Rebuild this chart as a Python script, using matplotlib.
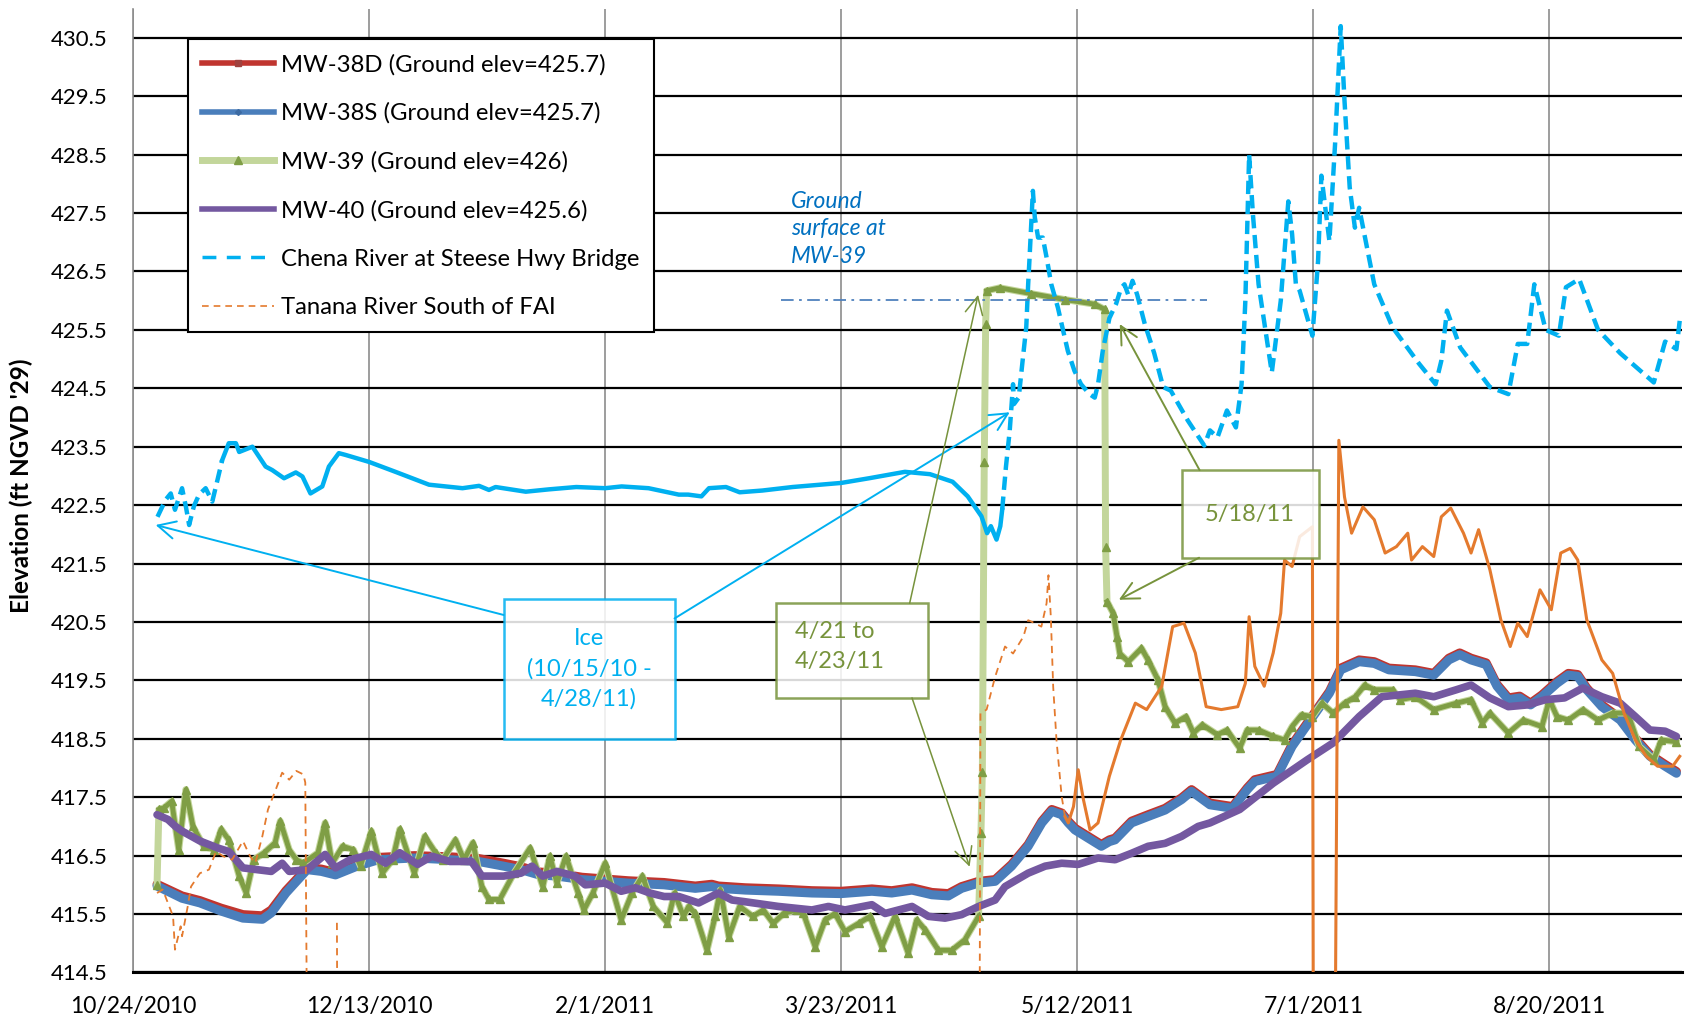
import numpy as np
import pandas as pd
import matplotlib
matplotlib.use('Agg')
import matplotlib.pyplot as plt
import matplotlib.dates as mdates
from matplotlib.lines import Line2D
from matplotlib.patches import Rectangle

plt.rcParams['font.family'] = ['Lato', 'DejaVu Sans']

start = np.datetime64('2010-10-24')
tick_labels = ['10/24/2010', '12/13/2010', '2/1/2011', '3/23/2011',
               '5/12/2011', '7/1/2011', '8/20/2011']
series_names = ['MW-38D (Ground elev=425.7)', 'MW-38S (Ground elev=425.7)',
                'MW-39 (Ground elev=426)', 'MW-40 (Ground elev=425.6)',
                'Chena River at Steese Hwy Bridge', 'Tanana River South of FAI']

# days after 10/24/2010, elevation in ft
mw38s_day = [5.1, 10.4, 14.2, 18.7, 23.3, 27.4, 29.3, 32.4, 36.9, 39.9, 42.9, 47.5, 52.0, 59.6,
             67.1, 73.2, 78.5, 82.2, 86.0, 89.8, 95.1, 100, 104.9, 112.5, 119.1, 122.6, 124.0,
             129.7, 136.7, 143.8, 150.0, 156.5, 160.7, 165.0, 169.2, 172.7, 175.5, 179.1, 182.6,
             186.1, 189.6, 192.5, 194.6, 196.7, 198.1, 199.5, 202.3, 205.1, 206.8, 208.0, 211.5,
             215.0, 218.6, 222.1, 224.2, 228.1, 232.9, 236.0, 237.6, 242.3, 245.5, 249.4, 253.4,
             255.8, 259.7, 262.9, 266.0, 271.6, 275.5, 278.7, 281.0, 283.4, 286.6, 288.9, 291.3,
             293.7, 296.0, 298.4, 301.6, 304.0, 306.0, 307.9, 311.1, 315.0, 318.2, 321.3, 324.5,
             326.9]
mw38s_elev = [415.98, 415.77, 415.69, 415.55, 415.43, 415.41, 415.52, 415.86, 416.26, 416.23,
              416.17, 416.32, 416.43, 416.46, 416.43, 416.40, 416.32, 416.26, 416.17, 416.15,
              416.09, 416.06, 416.03, 416.00, 415.94, 415.97, 415.94, 415.91, 415.89, 415.86,
              415.85, 415.89, 415.86, 415.91, 415.83, 415.81, 415.94, 416.03, 416.06, 416.32,
              416.66, 417.06, 417.26, 417.20, 417.06, 416.94, 416.80, 416.66, 416.74, 416.77,
              417.06, 417.17, 417.28, 417.46, 417.60, 417.37, 417.31, 417.63, 417.77, 417.86,
              418.37, 418.82, 419.28, 419.68, 419.82, 419.79, 419.68, 419.65, 419.59, 419.85,
              419.94, 419.85, 419.77, 419.40, 419.17, 419.20, 419.08, 419.22, 419.45, 419.59,
              419.57, 419.34, 419.05, 418.82, 418.48, 418.20, 418.03, 417.91]
mw38d_day = mw38s_day
mw38d_elev = [416.01, 415.81, 415.73, 415.60, 415.49, 415.47, 415.57, 415.90, 416.29, 416.27,
              416.21, 416.36, 416.47, 416.50, 416.48, 416.45, 416.37, 416.31, 416.22, 416.20,
              416.13, 416.10, 416.07, 416.04, 415.98, 416.01, 415.98, 415.95, 415.93, 415.90,
              415.89, 415.93, 415.90, 415.95, 415.87, 415.85, 415.97, 416.06, 416.09, 416.35,
              416.69, 417.09, 417.29, 417.23, 417.09, 416.97, 416.83, 416.69, 416.77, 416.80,
              417.09, 417.20, 417.31, 417.49, 417.63, 417.40, 417.34, 417.66, 417.80, 417.89,
              418.40, 418.85, 419.31, 419.71, 419.85, 419.82, 419.71, 419.68, 419.62, 419.88,
              419.97, 419.88, 419.80, 419.43, 419.20, 419.23, 419.11, 419.25, 419.48, 419.62,
              419.60, 419.37, 419.08, 418.85, 418.51, 418.23, 418.06, 417.94]

mw39_day = [5.1, 5.5, 6.6, 8.2, 9.7, 11.2, 12.7, 15.0, 17.2, 18.7, 20.3, 22.5, 24.0, 25.6, 27.8,
            30.1, 31.2, 33.1, 34.6, 36.1, 39.2, 40.7, 42.2, 44.4, 46.7, 48.2, 50.5, 52.8, 55.0,
            56.5, 59.6, 61.8, 64.1, 65.6, 68.3, 70.1, 72.0, 73.9, 75.4, 77.7, 80.7, 84.1, 86.8,
            88.3, 89.8, 91.7, 94.3, 95.5, 97.4, 100.0, 103.4, 105.7, 107.9, 110.2, 113.2, 114.7,
            116.6, 117.7, 119.1, 121.6, 123.3, 124.4, 126.2, 128.5, 131.3, 133.5, 135.6, 137.8,
            140.6, 142.0, 144.5, 146.6, 148.7, 150.8, 153.7, 156.1, 158.6, 161.4, 164.2, 166.0,
            167.8, 170.6, 173.4, 176.2, 179.1, 179.6, 179.9, 180.3, 180.6, 180.8, 183.6, 190.3,
            197.3, 203.7, 205.8, 206.0, 206.3, 207.6, 208.4, 209.0, 210.8, 213.6, 215.0, 217.1,
            218.6, 220.7, 223.0, 224.6, 226.5, 229.7, 231.7, 234.4, 236.0, 238.4, 241.5, 243.9,
            245.5, 247.5, 249.8, 251.8, 254.2, 256.6, 258.9, 260.9, 262.9, 266.8, 268.4, 271.6,
            275.5, 280.3, 283.4, 285.8, 287.4, 291.3, 294.5, 298.4, 300.0, 301.6, 304.0, 307.1,
            310.3, 313.4, 316.6, 319.0, 322.1, 323.7, 326.9]
mw39_elev = [416.00, 417.29, 417.32, 417.43, 416.60, 417.63, 417.00, 416.66, 416.60, 416.95,
             416.77, 416.15, 415.86, 416.43, 416.55, 416.72, 417.09, 416.60, 416.43, 416.37,
             416.55, 417.06, 416.37, 416.66, 416.60, 416.32, 416.92, 416.20, 416.43, 416.95,
             416.20, 416.83, 416.55, 416.43, 416.77, 416.43, 416.72, 415.97, 415.75, 415.75,
             416.20, 416.63, 415.97, 416.49, 416.03, 416.49, 415.86, 415.57, 415.86, 416.37,
             415.40, 415.86, 416.15, 415.63, 415.35, 415.86, 415.46, 415.63, 415.51, 414.88,
             415.46, 415.91, 415.11, 415.63, 415.46, 415.57, 415.34, 415.51, 415.57, 415.51,
             414.94, 415.40, 415.51, 415.20, 415.34, 415.46, 414.94, 415.46, 414.83, 415.40,
             415.23, 414.88, 414.88, 415.06, 415.46, 416.88, 417.94, 423.23, 425.60, 426.17,
             426.22, 426.12, 426.02, 425.94, 425.85, 421.79, 420.85, 420.65, 420.25, 419.96,
             419.82, 420.05, 419.85, 419.51, 419.05, 418.77, 418.88, 418.60, 418.74, 418.57,
             418.65, 418.34, 418.65, 418.65, 418.54, 418.48, 418.71, 418.91, 418.88, 419.11,
             418.94, 419.11, 419.22, 419.42, 419.34, 419.34, 419.17, 419.22, 419.00, 419.11,
             419.17, 418.77, 418.94, 418.60, 418.82, 418.71, 419.17, 418.88, 418.82, 419.00,
             418.82, 418.94, 418.94, 418.37, 418.14, 418.48, 418.45]

mw40_day = [5.1, 7.4, 9.0, 10.4, 14.2, 18.0, 20.3, 23.3, 26.3, 29.3, 31.6, 33.1, 36.9, 40.7,
            42.9, 46.0, 50.5, 53.5, 56.5, 60.3, 63.3, 67.1, 71.7, 73.9, 78.5, 82.2, 84.5, 86.8,
            89.8, 93.6, 95.8, 100, 103.4, 106.4, 109.5, 112.5, 115.6, 119.8, 124.0, 126.9, 129.7,
            136.7, 143.8, 147.3, 150.8, 156.5, 159.3, 165.0, 168.5, 172.0, 175.5, 179.1, 182.6,
            184.7, 189.6, 193.2, 196.7, 200.2, 204.4, 208.0, 211.5, 215.0, 218.6, 222.1, 225.6,
            228.1, 234.4, 241.5, 248.7, 254.2, 259.7, 264.5, 271.6, 275.5, 280.3, 283.4, 287.4,
            291.3, 295.3, 299.2, 303.2, 307.1, 311.1, 315.0, 318.2, 321.3, 324.5, 326.9]
mw40_elev = [417.20, 417.12, 417.00, 416.92, 416.75, 416.63, 416.57, 416.29, 416.26, 416.23,
             416.37, 416.23, 416.26, 416.52, 416.29, 416.43, 416.52, 416.37, 416.55, 416.35,
             416.49, 416.40, 416.40, 416.15, 416.15, 416.20, 416.32, 416.15, 416.23, 416.15,
             416.00, 416.03, 415.89, 415.95, 415.86, 415.80, 415.80, 415.69, 415.86, 415.74,
             415.71, 415.63, 415.57, 415.63, 415.57, 415.66, 415.51, 415.63, 415.46, 415.43,
             415.49, 415.63, 415.74, 415.97, 416.20, 416.32, 416.37, 416.35, 416.46, 416.43,
             416.54, 416.66, 416.71, 416.83, 417.00, 417.06, 417.29, 417.74, 418.14, 418.43,
             418.88, 419.22, 419.28, 419.22, 419.34, 419.42, 419.20, 419.05, 419.08, 419.17,
             419.20, 419.37, 419.22, 419.11, 418.88, 418.65, 418.63, 418.54]

chena_day = [5.2, 6.9, 8.0, 8.9, 10.4, 11.2, 11.9, 12.9, 14.0, 15.4, 16.8, 17.9, 18.9, 20.3,
             21.8, 22.5, 25.3, 28.1, 29.5, 32.0, 34.5, 35.9, 37.6, 40.1, 41.5, 43.6, 45.0, 50.0,
             55.6, 62.7, 69.8, 73.3, 75.4, 76.8, 83.2, 88.1, 93.9, 100, 103.5, 109.2, 115.6,
             117.6, 120.4, 122.0, 125.6, 128.5, 133.3, 139.7, 150, 155.9, 163.5, 168.8, 173.6,
             176.8, 179.7, 180.9, 181.7, 182.9, 183.7, 184.1, 184.9, 185.7, 186.4, 186.6, 187.6,
             188.5, 189.2, 189.6, 189.9, 190.6, 191.0, 191.7, 192.7, 193.5, 194.5, 195.9, 197.0,
             198.0, 199.4, 200.8, 202.6, 203.7, 204.4, 205.4, 206.8, 208.2, 209.3, 210.0, 210.8,
             211.7, 212.7, 214.3, 216.3, 218.2, 219.8, 223.4, 226.9, 228.1, 229.7, 231.7, 233.6,
             234.8, 235.6, 236.4, 237.2, 238.4, 241.2, 243.1, 244.7, 245.5, 246.3, 247.1, 249.8,
             251.0, 251.7, 253.4, 254.6, 255.8, 256.6, 257.7, 258.8, 259.7, 262.9, 266.8, 272.4,
             275.9, 277.1, 278.3, 281.1, 287.4, 291.3, 293.3, 295.3, 296.8, 299.2, 302.0, 303.5,
             306.3, 310.3, 315.0, 322.1, 324.5, 326.9, 327.6]
chena_elev = [422.30, 422.59, 422.70, 422.42, 422.79, 422.48, 422.16, 422.48, 422.68, 422.79,
              422.56, 422.93, 423.27, 423.56, 423.56, 423.41, 423.50, 423.16, 423.10, 422.96,
              423.06, 422.99, 422.70, 422.82, 423.16, 423.39, 423.36, 423.24, 423.07, 422.85,
              422.79, 422.83, 422.76, 422.81, 422.73, 422.77, 422.81, 422.79, 422.82, 422.79,
              422.68, 422.68, 422.65, 422.79, 422.81, 422.72, 422.75, 422.81, 422.88, 422.96,
              423.07, 423.03, 422.90, 422.65, 422.31, 422.02, 422.14, 421.91, 422.14, 422.42,
              423.16, 423.78, 424.57, 424.23, 424.34, 425.03, 425.55, 426.28, 426.74, 427.88,
              427.43, 427.08, 427.08, 426.74, 426.28, 425.88, 425.49, 425.14, 424.80, 424.57,
              424.40, 424.34, 424.57, 425.14, 425.70, 425.94, 426.22, 426.28, 426.10, 426.34,
              426.10, 425.60, 425.10, 424.52, 424.46, 423.95, 423.52, 423.78, 423.66, 424.12,
              423.83, 424.57, 426.00, 428.50, 427.48, 426.28, 424.77, 426.00, 427.70, 427.14,
              426.28, 426.17, 425.40, 426.68, 428.14, 427.02, 428.68, 430.70, 429.42, 427.94,
              427.25, 427.59, 426.28, 425.54, 424.92, 424.57, 424.97, 425.83, 425.20, 424.52,
              424.40, 425.26, 425.26, 426.28, 425.50, 425.40, 426.23, 426.37, 425.50, 425.10,
              424.60, 425.30, 425.17, 425.66]

# gaps (nan) and readings far below the axis where the logger dropped out
tanana_day = [5.1, 6.3, 7.4, 8.5, 8.9, 10.1, 10.4, 11.6, 12.3, 14.2, 16.1, 17.6, 19.1, 21.0,
              23.3, 24.8, 25.9, 27.4, 28.6, 30.1, 31.6, 33.1, 34.6, 36.1, 36.5, 36.9, 40.0,
              43.2, 43.3, 100.0, 179.3, 179.5, 180.8, 182.6, 184.7, 186.4, 188.6, 189.6, 191.0,
              192.4, 193.5, 193.9, 194.4, 194.9, 195.6, 196.7, 197.4, 198.1, 199.2, 200.2, 201.3,
              202.7, 204.4, 206.8, 209.2, 212.3, 214.7, 217.9, 220.2, 222.6, 225.0, 227.3, 230.5,
              234.0, 235.6, 236.4, 237.6, 239.6, 241.5, 243.1, 243.9, 245.5, 247.1, 249.8, 250.0,
              252.0, 254.6, 255.4, 256.6, 258.1, 260.5, 262.9, 265.2, 267.6, 270.0, 270.8, 273.1,
              275.5, 277.1, 279.1, 281.8, 283.4, 285.0, 287.4, 289.7, 291.7, 293.3, 295.3, 298.0,
              300.4, 302.4, 304.4, 306.0, 307.9, 311.1, 313.4, 315.8, 318.2, 320.5, 322.9, 326.1,
              327.6]
tanana_elev = [415.86, 415.92, 415.69, 415.46, 414.89, 415.29, 415.12, 415.63, 415.97, 416.20,
               416.26, 416.57, 416.49, 416.43, 416.75, 416.49, 416.37, 416.83, 417.29, 417.60,
               417.92, 417.80, 417.95, 417.89, 417.75, 413.0, np.nan, 415.35, 413.0, np.nan,
               413.0, 418.94, 419.00, 419.56, 420.08, 419.96, 420.25, 420.53, 420.48, 420.42,
               420.82, 421.30, 420.59, 419.39, 418.48, 417.51, 417.17, 417.06, 417.34, 417.97,
               417.46, 416.94, 417.06, 417.86, 418.48, 419.11, 419.00, 419.40, 420.42, 420.48,
               419.97, 419.05, 419.00, 419.05, 419.45, 420.59, 419.74, 419.40, 419.97, 420.65,
               421.56, 421.45, 421.96, 422.13, 413.0, np.nan, 413.0, 423.61, 422.64, 422.02,
               422.47, 422.25, 421.68, 421.79, 422.02, 421.56, 421.79, 421.62, 422.30, 422.45,
               422.02, 421.68, 422.08, 421.39, 420.54, 420.08, 420.48, 420.25, 421.05, 420.71,
               421.68, 421.76, 421.56, 420.54, 419.85, 419.62, 418.94, 418.48, 418.20, 418.03,
               418.03, 418.20]

ground_mw39 = 426.02

c_red = '#C0352F'
c_blue = '#4A7EBB'
c_lgreen = '#C3D69B'
c_olive = '#7F9E45'
c_purple = '#7458A0'
c_chena = '#00B0F0'
c_tanana = '#E47A2E'
c_note_green = '#77933C'


def to_x(days):
    return mdates.date2num(start) + np.asarray(days, dtype=float)


fig = plt.figure(figsize=(16.85, 10.23), dpi=100)
ax = fig.add_axes([0.0789, 0.0494, 0.9191, 0.9422])

# wells
ax.plot(to_x(mw38d_day), mw38d_elev, color=c_red, lw=6.5, solid_capstyle='round', zorder=2)
ax.plot(to_x(mw38s_day), mw38s_elev, color=c_blue, lw=6.5, solid_capstyle='round', zorder=3)

d39 = np.array(mw39_day)
e39 = np.array(mw39_elev)
ax.plot(to_x(d39), e39, color=c_lgreen, lw=5, zorder=4)
# darker trace except across the fast jumps
rate = np.abs(np.diff(e39)) / np.diff(d39)
ov_d, ov_e = [d39[0]], [e39[0]]
for i in range(1, len(d39)):
    if rate[i - 1] > 2.5:
        ov_d.append(np.nan)
        ov_e.append(np.nan)
    ov_d.append(d39[i])
    ov_e.append(e39[i])
ov_d = np.array(ov_d)
ov_e = np.array(ov_e)
ax.plot(to_x(ov_d), ov_e, color=c_olive, lw=3.5, zorder=4.1)
ax.plot(to_x(d39), e39, ls='none', marker='^', ms=6, color=c_olive, zorder=4.2)

ax.plot(to_x(mw40_day), mw40_elev, color=c_purple, lw=5.5, solid_capstyle='round', zorder=5)

# Chena: logger trace looks continuous under the ice, dashed otherwise
cd = np.array(chena_day)
ce = np.array(chena_elev)
early = cd <= 18.9
winter = (cd >= 18.9) & (cd <= 184.1)
late = cd >= 184.1
ax.plot(to_x(cd[early]), ce[early], color=c_chena, lw=3.2, dashes=(3, 1.5), zorder=6)
ax.plot(to_x(cd[winter]), ce[winter], color=c_chena, lw=3.2, zorder=6)
ax.plot(to_x(cd[late]), ce[late], color=c_chena, lw=3.2, dashes=(3, 1.5), zorder=6)

td = np.array(tanana_day)
te = np.array(tanana_elev)
spring = td <= 197.4
summer = td >= 197.4
ax.plot(to_x(td[spring]), te[spring], color=c_tanana, lw=1.3, dashes=(4, 3), zorder=7)
ax.plot(to_x(td[summer]), te[summer], color=c_tanana, lw=2.2, zorder=7)

# ground surface at MW-39
ax.plot(to_x([137.3, 227.4]), [ground_mw39, ground_mw39], color='#4F81BD', lw=1.3,
        dashes=(7, 3, 1.5, 3), zorder=8)
ax.text(to_x(139.3)[()], 427.23, 'Ground\nsurface at\nMW-39', color='#0070C0', style='italic',
        fontsize=16.5, ha='left', va='center', linespacing=1.38, zorder=9)

arrow_kw = dict(arrowstyle='->,head_length=0.7,head_width=0.35', shrinkA=0, shrinkB=0,
                mutation_scale=18)

# ice note
ax.add_patch(Rectangle((to_x(78.5)[()], 418.49), 36.2, 2.40, facecolor='white', alpha=0.85,
                       edgecolor=c_chena, lw=1.8, zorder=10))
ax.text(to_x(96.6)[()], 419.70, 'Ice\n(10/15/10 -\n4/28/11)', color=c_chena, fontsize=17,
        ha='center', va='center', linespacing=1.5, zorder=11)
ax.annotate('', xy=(to_x(4.8)[()], 422.16), xytext=(to_x(78.5)[()], 420.62),
            arrowprops=dict(color=c_chena, lw=1.4, **arrow_kw), zorder=11)
ax.annotate('', xy=(to_x(185.7)[()], 424.09), xytext=(to_x(114.7)[()], 420.56),
            arrowprops=dict(color=c_chena, lw=1.4, **arrow_kw), zorder=11)

# 4/21 - 4/23 note
ax.add_patch(Rectangle((to_x(136.1)[()], 419.20), 32.3, 1.62, facecolor='white', alpha=0.85,
                       edgecolor=c_note_green, lw=1.8, zorder=10))
ax.text(to_x(140.2)[()], 420.08, '4/21 to\n4/23/11', color=c_note_green, fontsize=17,
        ha='left', va='center', linespacing=1.5, zorder=11)
ax.annotate('', xy=(to_x(179.0)[()], 426.10), xytext=(to_x(164.5)[()], 420.82),
            arrowprops=dict(color=c_note_green, lw=1.1, **arrow_kw), zorder=11)
ax.annotate('', xy=(to_x(177.2)[()], 416.31), xytext=(to_x(165.0)[()], 419.20),
            arrowprops=dict(color=c_note_green, lw=1.1, **arrow_kw), zorder=11)

# 5/18 note
ax.add_patch(Rectangle((to_x(222.1)[()], 421.60), 29.2, 1.50, facecolor='white', alpha=0.85,
                       edgecolor=c_note_green, lw=1.8, zorder=10))
ax.text(to_x(236.6)[()], 422.34, '5/18/11', color=c_note_green, fontsize=17,
        ha='center', va='center', zorder=11)
ax.annotate('', xy=(to_x(209.0)[()], 425.60), xytext=(to_x(225.9)[()], 423.10),
            arrowprops=dict(color=c_note_green, lw=1.4, **arrow_kw), zorder=11)
ax.annotate('', xy=(to_x(208.8)[()], 420.88), xytext=(to_x(225.8)[()], 421.60),
            arrowprops=dict(color=c_note_green, lw=1.4, **arrow_kw), zorder=11)

# axes
ax.set_xlim(to_x(0)[()], to_x(328)[()])
ax.set_ylim(414.5, 431.0)
tick_x = mdates.date2num(pd.to_datetime(tick_labels, format='%m/%d/%Y'))
ax.set_xticks(tick_x)
ax.set_xticklabels(tick_labels, fontsize=16.5)
ax.set_yticks(np.arange(414.5, 431.0, 1.0))
ax.set_yticklabels(['%.1f' % v for v in np.arange(414.5, 431.0, 1.0)], fontsize=16)
ax.tick_params(axis='both', length=0)
ax.tick_params(axis='y', pad=18)
ax.tick_params(axis='x', pad=17)
ax.grid(axis='y', color='black', lw=1.6, zorder=0)
ax.grid(axis='x', color='#8C8C8C', lw=1.2, zorder=0)
ax.set_axisbelow(True)
for s in ['top', 'right']:
    ax.spines[s].set_visible(False)
ax.spines['left'].set_color('#8C8C8C')
ax.spines['left'].set_linewidth(1.2)
ax.spines['bottom'].set_color('black')
ax.spines['bottom'].set_linewidth(2.2)

ax.set_ylabel("Elevation (ft NGVD '29)", fontsize=17.5, fontweight='bold')
ax.yaxis.set_label_coords(-0.0646, 0.505)

handles = [
    Line2D([], [], color=c_red, lw=4, marker='s', ms=5, mfc='#A0413E', mec='#A0413E'),
    Line2D([], [], color=c_blue, lw=4, marker='D', ms=3, mfc='#3C6BA3', mec='#3C6BA3'),
    Line2D([], [], color=c_lgreen, lw=5, marker='^', ms=6, mfc=c_olive, mec=c_olive),
    Line2D([], [], color=c_purple, lw=4),
    Line2D([], [], color=c_chena, lw=2.5, dashes=(4, 3)),
    Line2D([], [], color=c_tanana, lw=1.2, dashes=(4, 3)),
]
leg = ax.legend(handles, series_names, loc='upper left', bbox_to_anchor=(0.0355, 0.968),
                borderaxespad=0, fontsize=17.2, handlelength=3.0, handletextpad=0.3,
                labelspacing=1.14, borderpad=0.6, fancybox=False, framealpha=1,
                edgecolor='black')
leg.get_frame().set_linewidth(1.5)
leg.set_zorder(12)

fig.savefig('out.png', dpi=100)
